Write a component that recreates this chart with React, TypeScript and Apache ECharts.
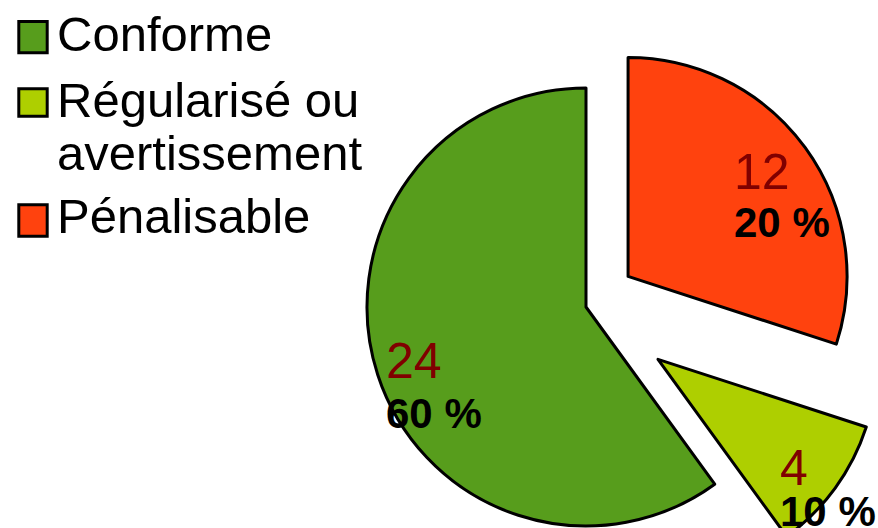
import React, { useEffect, useRef } from "react";
import * as echarts from "echarts";

// ---- data ----
const categories = ["Conforme", "Régularisé ou\navertissement", "Pénalisable"];
const values = [24, 4, 12];
const percentLabels = ["60 %", "10 %", "20 %"];
const colors = ["#579d1c", "#aecf00", "#ff420e"];

// ---- layout (styling only) ----
const W = 878;
const H = 528;
const FONT = "'Liberation Sans', Arial, sans-serif";
const BASE_CENTER = [586, 307];
const RADIUS = 219;
const EXPLODE = [0, 89, 52];
const LABEL_POS = [
  { x: 386, y: 335, lh: 52 },
  { x: 780, y: 445.5, lh: 44 },
  { x: 734, y: 147, lh: 50 },
];
const LEGEND_BOX = [
  { y: 20, h: 34.3 },
  { y: 87.3, h: 30.4 },
  { y: 203.3, h: 34.4 },
];
const LEGEND_TEXT_TOP = [7.2, 73.8, 189.8];

export default function App() {
  const ref = useRef<HTMLDivElement>(null);

  useEffect(() => {
    if (!ref.current) return;
    const chart = echarts.init(ref.current, undefined, { renderer: "svg" });

    const total = values.reduce((a, b) => a + b, 0);
    // counter-clockwise from the top; compute mid-angle of each slice
    let acc = 0;
    const dirs = values.map((v) => {
      const mid = ((acc + v / 2) / total) * 2 * Math.PI;
      acc += v;
      return [-Math.sin(mid), -Math.cos(mid)];
    });

    const series = categories.map((_, k) => ({
      type: "pie",
      center: [
        BASE_CENTER[0] + EXPLODE[k] * dirs[k][0],
        BASE_CENTER[1] + EXPLODE[k] * dirs[k][1],
      ],
      radius: RADIUS,
      startAngle: 90,
      clockwise: false,
      silent: true,
      avoidLabelOverlap: false,
      labelLine: { show: false },
      emphasis: { disabled: true },
      label: { show: false },
      data: categories.map((name, i) => ({
        name,
        value: values[i],
        itemStyle:
          i === k
            ? { color: colors[i], borderColor: "#000", borderWidth: 3 }
            : { color: "rgba(0,0,0,0)", borderWidth: 0 },
        label:
          i === k
            ? {
                show: true,
                position: "inside",
                fontFamily: FONT,
                formatter: () => `{n|${values[i]}}\n{p|${percentLabels[i]}}`,
                rich: {
                  n: {
                    fontSize: 50,
                    color: "#800000",
                    fontFamily: FONT,
                    lineHeight: LABEL_POS[i].lh,
                  },
                  p: {
                    fontSize: 42,
                    fontWeight: "bold",
                    color: "#000",
                    fontFamily: FONT,
                    lineHeight: LABEL_POS[i].lh,
                  },
                },
              }
            : { show: false },
      })),
      labelLayout: (p: any) =>
        p.dataIndex === k
          ? {
              x: LABEL_POS[k].x,
              y: LABEL_POS[k].y,
              align: "left",
              verticalAlign: "top",
            }
          : {},
    }));

    const graphic = categories.flatMap((name, i) => [
      {
        type: "rect",
        shape: {
          x: 17.3 + 1.5,
          y: LEGEND_BOX[i].y + 1.5,
          width: 31.4 - 3,
          height: LEGEND_BOX[i].h - 3,
        },
        style: { fill: colors[i], stroke: "#000", lineWidth: 3 },
        silent: true,
      },
      {
        type: "text",
        x: 57,
        y: LEGEND_TEXT_TOP[i],
        style: {
          text: name,
          fontSize: 49,
          fontFamily: FONT,
          fill: "#000",
          lineHeight: 53,
          align: "left",
          verticalAlign: "top",
        },
        silent: true,
      },
    ]);

    chart.setOption({
      animation: false,
      backgroundColor: "#ffffff",
      series,
      graphic,
    } as any);

    return () => chart.dispose();
  }, []);

  return (
    <div
      ref={ref}
      style={{ position: "fixed", left: 0, top: 0, width: W, height: H }}
    />
  );
}
